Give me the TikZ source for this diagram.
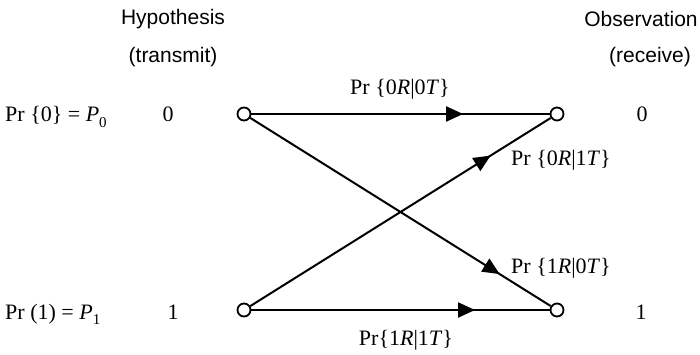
\documentclass[tikz,border=0pt]{standalone}
\usepackage{fontspec}
\setmainfont{Liberation Serif}
\setsansfont{Liberation Sans}
\usetikzlibrary{arrows.meta,decorations.markings,positioning}

\newcommand{\lowsub}[1]{\raisebox{-0.5ex}{\fontsize{15}{15}\selectfont #1}}

\begin{document}
\begin{tikzpicture}[
    x=1pt, y=-1pt,
    head/.style={font=\sffamily\fontsize{21}{25}\selectfont, inner sep=0pt},
    lbl/.style={font=\fontsize{22}{26}\selectfont, inner sep=0pt},
    port/.style={circle, draw, fill=white, line width=1.8pt, minimum size=13pt, inner sep=0pt},
    link/.style={line width=2pt},
    midarrow/.style={postaction={decorate, decoration={markings, mark=at position #1 with {\arrow{Triangle[length=17pt, width=15pt]}}}}}
]
\useasboundingbox (0,0) rectangle (700,355);

% Column headings
\node [head] (hyp) at (173,19) {Hypothesis};
\node [head] (tx) at (173,57) {(transmit)};
\node [head] (obs) at (641,19) {Observation};
\node [head] (rx) at (650,57) {(receive)};

% Prior probabilities and symbols
\node [lbl, anchor=base west] (p0) at (5,122) {Pr \{0\} = \textit{P}\lowsub{0}};
\node [lbl, anchor=base west] (p1) at (5,319) {Pr (1) = \textit{P}\lowsub{1}};
\node [lbl, anchor=base] (s0) at (168,122) {0};
\node [lbl, anchor=base] (s1) at (173,319) {1};
\node [lbl, anchor=base] (r0) at (642,122) {0};
\node [lbl, anchor=base] (r1) at (641,319) {1};

% Channel end points
\node [port] (a0) at (244,114) {};
\node [port] (a1) at (244,310) {};
\node [port] (b0) at (557,114) {};
\node [port] (b1) at (557,310) {};

% Transitions
\draw [link, midarrow=0.71] (a0) -- (b0);
\draw [link, midarrow=0.80] (a1) -- (b0);
\draw [link, midarrow=0.83] (a0) -- (b1);
\draw [link, midarrow=0.75] (a1) -- (b1);

% Transition labels
\node [lbl] (l00) at (400,89) {Pr \{0\textit{R}|0\textit{T}\}};
\node [lbl, anchor=west] (l01) at (511,160) {Pr \{0\textit{R}|1\textit{T}\}};
\node [lbl, anchor=west] (l10) at (511,268) {Pr \{1\textit{R}|0\textit{T}\}};
\node [lbl] (l11) at (406,340) {Pr\{1\textit{R}|1\textit{T}\}};

\end{tikzpicture}
\end{document}
